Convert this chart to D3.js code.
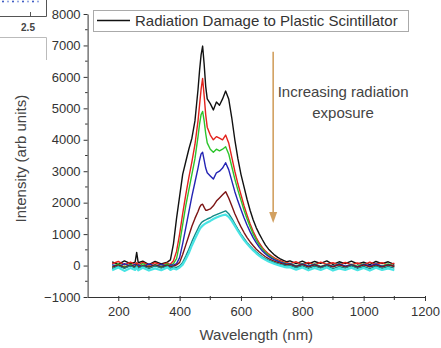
<!DOCTYPE html>
<html>
<head>
<meta charset="utf-8">
<script src="https://cdn.jsdelivr.net/npm/d3@7"></script>
<style>
  html, body { margin: 0; padding: 0; background: #fff; }
  svg { display: block; font-family: "Liberation Sans", Arial, sans-serif; }
  .axis text { fill: #333; font-size: 13px; }
  .axis path, .axis line { stroke: #333; }
</style>
</head>
<body>
<div id="chart"></div>
<script>
// wavelength samples (nm), shared by every spectrum
const wavelength = [180,200,220,240,255,260,265,280,300,320,340,360,370,380,390,400,410,420,430,440,450,460,465,470,475,480,485,490,
  500,510,520,530,540,550,560,570,580,590,600,610,620,630,640,650,660,670,680,690,700,710,720,730,740,750,760,
  780,800,820,840,860,880,900,920,940,960,980,1000,1020,1040,1060,1080,1100];

// intensity (arb units), one array per exposure step
const dose0 = [120,40,150,60,110,420,90,140,30,130,50,110,180,700,1500,2200,2900,3300,3700,4050,4600,5600,6200,6700,6980,6400,5700,5300,
  5150,4950,5200,5100,5300,5550,5300,4700,4000,3400,2900,2500,2100,1750,1450,1200,1000,820,650,520,420,330,260,200,160,120,150,
  60,140,50,130,70,150,40,120,60,140,50,110,30,130,60,120,40];
const dose1 = [60,130,20,110,40,90,30,100,10,90,20,80,40,150,450,1000,1650,2250,2800,3300,3850,4600,5100,5600,5950,5400,4800,4400,
  4150,4000,4100,4050,4000,4150,3900,3450,3000,2600,2250,1900,1600,1320,1080,880,710,570,460,370,300,240,190,150,110,90,60,
  120,30,100,20,110,40,90,10,100,30,80,20,110,40,90,10,80];
const dose2 = [-30,50,-40,40,-20,30,-30,60,-40,30,-30,50,0,60,220,700,1300,1900,2400,2900,3400,4100,4500,4800,4900,4600,4200,3900,
  3700,3600,3700,3650,3700,3780,3550,3150,2750,2400,2080,1760,1480,1230,1000,810,650,520,410,330,260,200,150,110,80,50,70,
  -10,60,-20,50,-30,40,-20,60,-30,40,-20,50,-30,40,-10,50,-20];
const dose3 = [30,-40,60,-20,40,-30,20,-40,50,-20,40,-30,20,10,60,250,700,1200,1700,2200,2650,3100,3350,3550,3600,3350,3100,2950,
  2850,2750,2950,3000,3100,3270,3050,2700,2350,2050,1780,1520,1280,1070,880,720,580,460,370,290,230,180,140,100,70,40,60,
  -30,50,-20,40,-40,30,-30,50,-20,30,-40,40,-10,50,-30,20,-20];
const dose4 = [-60,20,-70,10,-50,30,-60,0,-50,20,-60,10,-40,-20,20,100,350,650,950,1250,1500,1720,1850,1930,1950,1850,1760,1760,
  1800,1900,2050,2150,2250,2350,2150,1900,1650,1430,1230,1050,890,750,630,520,430,350,280,220,170,130,100,70,40,20,40,
  -40,30,-50,20,-60,10,-40,30,-50,10,-60,20,-40,10,-50,20,-30];
const dose5 = [-100,-20,-90,-10,-80,0,-90,-20,-100,-10,-80,-20,-90,-40,-60,-10,100,300,520,760,980,1180,1280,1350,1400,1430,1450,1480,
  1520,1580,1620,1660,1700,1740,1650,1500,1330,1160,1000,860,730,620,520,430,350,280,220,170,130,90,60,30,10,-20,0,
  -70,-10,-90,-20,-80,-10,-100,-30,-80,-10,-90,-30,-100,-20,-90,-30,-80];
const dose6 = [-150,-60,-170,-80,-140,-60,-150,-70,-160,-90,-150,-60,-140,-90,-120,-60,30,200,400,640,850,1050,1150,1220,1270,1310,1340,1370,
  1420,1480,1530,1570,1600,1620,1550,1420,1260,1100,950,810,690,580,480,390,310,240,180,130,90,50,20,-10,-40,-60,-50,
  -130,-60,-150,-80,-140,-60,-160,-90,-140,-70,-150,-80,-160,-70,-140,-90,-150];

const seriesValues = [dose0, dose1, dose2, dose3, dose4, dose5, dose6];
const seriesColors = ["#111111", "#e3221c", "#2cc42c", "#2424b4", "#7c1414", "#138a86", "#48e4e4"];

const xTicks = [200, 400, 600, 800, 1000, 1200];
const xMinor = [300, 500, 700, 900, 1100];
const yTicks = [-1000, 0, 1000, 2000, 3000, 4000, 5000, 6000, 7000, 8000];
const yMinor = [-500, 500, 1500, 2500, 3500, 4500, 5500, 6500, 7500];

const legendLabel = "Radiation Damage to Plastic Scintillator";
const noteLines = ["Increasing radiation", "exposure"];

const width = 441, height = 348;
const svg = d3.select("#chart").append("svg")
  .attr("width", width).attr("height", height);

const x = d3.scaleLinear().domain([100, 1200]).range([87.6, 425]);
const y = d3.scaleLinear().domain([-1000, 8000]).range([297, 14]);

// cropped inset left over in the top-left corner
const inset = svg.append("g").attr("stroke", "#555").attr("fill", "none");
inset.append("path").attr("d", "M0,16.5H46.5V-1");
inset.append("line").attr("x1", 30.5).attr("x2", 30.5).attr("y1", 12).attr("y2", 16.5);
inset.append("path").attr("d", "M0,37.5H46.5V60").attr("stroke", "#bbb");
svg.append("g").selectAll("circle").data(d3.range(0, 40, 5)).join("circle")
  .attr("cx", d => 3 + d).attr("cy", 1.5).attr("r", 1)
  .attr("fill", (d, i) => i % 2 ? "#8aa0e0" : "#3050c0");
svg.append("text").attr("x", 28).attr("y", 31).attr("text-anchor", "middle")
  .attr("font-size", 10).attr("font-weight", "bold").attr("fill", "#444").text("2.5");

// axes
const yAxis = svg.append("g").attr("class", "axis")
  .attr("transform", `translate(${x.range()[0]},0)`)
  .call(d3.axisLeft(y).tickValues(yTicks).tickSize(4).tickSizeOuter(0).tickPadding(3)
    .tickFormat(d3.format("d")));
yAxis.selectAll(".minor").data(yMinor).join("line").attr("class", "minor")
  .attr("x1", -2.5).attr("x2", 0).attr("y1", d => y(d)).attr("y2", d => y(d)).attr("stroke", "#333");

const xAxis = svg.append("g").attr("class", "axis")
  .attr("transform", `translate(0,${y.range()[0]})`)
  .call(d3.axisBottom(x).tickValues(xTicks).tickSize(4).tickSizeOuter(0).tickPadding(6)
    .tickFormat(d3.format("d")));
xAxis.selectAll(".minor").data(xMinor).join("line").attr("class", "minor")
  .attr("x1", d => x(d)).attr("x2", d => x(d)).attr("y1", -1).attr("y2", 3).attr("stroke", "#333");
xAxis.selectAll(".tick line").attr("y1", -1);

// spectra
const line = d3.line()
  .x((d, i) => x(wavelength[i]))
  .y(d => y(d));

svg.append("g").selectAll("path")
  .data(seriesValues)
  .join("path")
  .attr("fill", "none")
  .attr("stroke", (d, i) => seriesColors[i])
  .attr("stroke-width", (d, i) => i === 6 ? 2.2 : 1.4)
  .attr("stroke-linejoin", "round")
  .attr("d", line);

// exposure arrow
const arrowX = x(705);
const arrowTop = y(6800), arrowTip = y(1350);
svg.append("line")
  .attr("x1", arrowX).attr("x2", arrowX)
  .attr("y1", arrowTop).attr("y2", arrowTip - 6)
  .attr("stroke", "#d2a060").attr("stroke-width", 1.6);
svg.append("path")
  .attr("d", `M${arrowX - 4},${arrowTip - 11}L${arrowX + 4},${arrowTip - 11}L${arrowX},${arrowTip}Z`)
  .attr("fill", "#d2a060");

svg.append("g").selectAll("text").data(noteLines).join("text")
  .attr("x", x(933))
  .attr("y", (d, i) => y(5520) + i * 21)
  .attr("dy", "0.35em")
  .attr("text-anchor", "middle")
  .attr("font-size", 15)
  .attr("fill", "#444")
  .text(d => d);

// legend
const legend = svg.append("g");
legend.append("rect").attr("x", 93.5).attr("y", 10.5).attr("width", 315).attr("height", 21)
  .attr("fill", "#fff").attr("stroke", "#aaa");
legend.append("line").attr("x1", 97).attr("x2", 130).attr("y1", 20.5).attr("y2", 20.5)
  .attr("stroke", seriesColors[0]).attr("stroke-width", 1.6);
legend.append("text").attr("x", 135).attr("y", 21).attr("dy", "0.35em")
  .attr("font-size", 15).attr("fill", "#333").text(legendLabel);

// axis titles
svg.append("text")
  .attr("transform", `translate(21,${y(3400)}) rotate(-90)`)
  .attr("text-anchor", "middle").attr("dy", "0.35em")
  .attr("font-size", 15).attr("fill", "#444")
  .text("Intensity (arb units)");
svg.append("text")
  .attr("x", x(650)).attr("y", 335).attr("dy", "0.35em")
  .attr("text-anchor", "middle")
  .attr("font-size", 15).attr("fill", "#444")
  .text("Wavelength (nm)");
</script>
</body>
</html>
